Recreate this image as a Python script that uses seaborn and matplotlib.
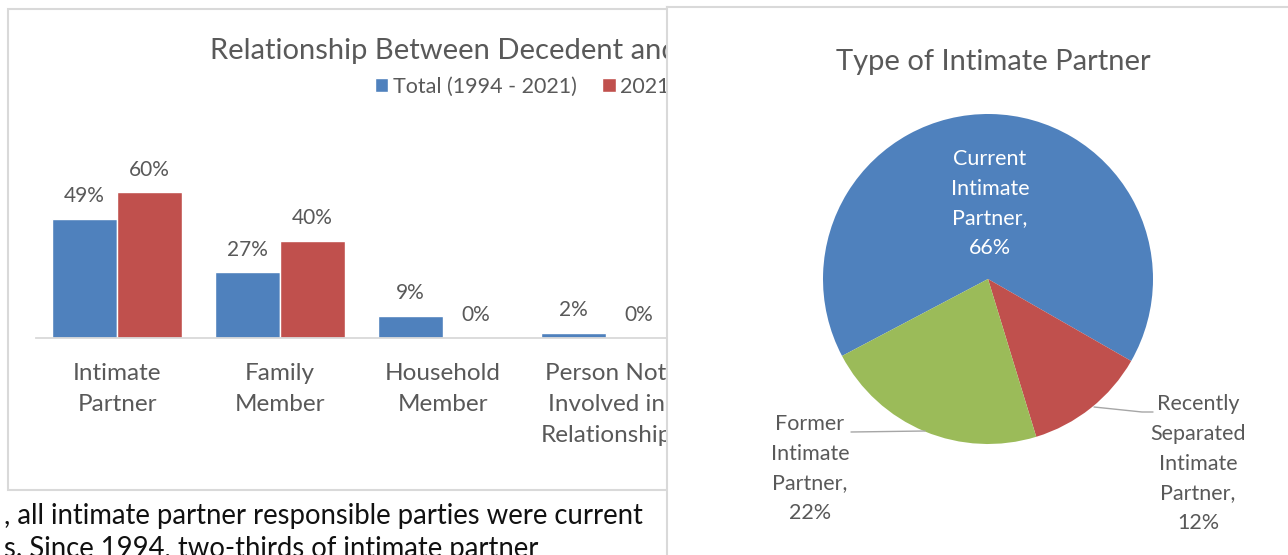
import matplotlib
matplotlib.use("Agg")
import matplotlib.pyplot as plt
import seaborn as sns
import pandas as pd
from matplotlib.patches import Rectangle

# ---------------- data ----------------
categories = ["Intimate\nPartner", "Family\nMember", "Household\nMember",
              "Person Not\nInvolved in\nRelationship"]
series_names = ["Total (1994 - 2021)", "2021"]
total_values = [49, 27, 9, 2]
y2021_values = [60, 40, 0, 0]

pie_names = ["Current Intimate Partner", "Recently Separated Intimate Partner",
             "Former Intimate Partner"]
pie_labels = ["Current\nIntimate\nPartner,\n66%",
              "Recently\nSeparated\nIntimate\nPartner,\n12%",
              "Former\nIntimate\nPartner,\n22%"]
pie_values = [66, 12, 22]

bar_title = "Relationship Between Decedent and"
pie_title = "Type of Intimate Partner"
body_lines = [", all intimate partner responsible parties were current",
              "s. Since 1994, two-thirds of intimate partner"]

# ---------------- style ----------------
W, H = 1288, 555
sns.set_theme(style="white")
plt.rcParams['font.family'] = ['Lato', 'DejaVu Sans']

GRAY = "#595959"
BORDER = "#D9D9D9"
BLUE, RED, GREEN = "#4F81BD", "#C0504D", "#9BBB59"

fig = plt.figure(figsize=(W / 100, H / 100), dpi=100)
fig.patch.set_facecolor("white")


def fx(px):
    return px / W


def fy(py):
    return 1 - py / H


# frame of the left chart
fig.add_artist(Rectangle((fx(8), fy(490)), fx(800) - fx(8), (490 - 9) / H,
                         transform=fig.transFigure, fill=False,
                         edgecolor=BORDER, lw=1.5, zorder=1))

# ---------------- bar chart ----------------
x0, step, ncat = 35.5, 163, len(categories)
base_y, ppu, ymax = 337.5, 2.42, 70
ax = fig.add_axes([fx(x0), fy(base_y), ncat * step / W, ymax * ppu / H])
df = pd.DataFrame({
    "category": categories * 2,
    "series": [series_names[0]] * ncat + [series_names[1]] * ncat,
    "value": total_values + y2021_values,
})
sns.barplot(data=df, x="category", y="value", hue="series",
            palette=[BLUE, RED], saturation=1, width=0.8, errorbar=None,
            ax=ax, legend=True)
ax.set_xlim(-0.5, ncat - 0.5)
ax.set_ylim(0, ymax)
ax.set_facecolor("none")
for s in ["top", "right", "left"]:
    ax.spines[s].set_visible(False)
ax.spines["bottom"].set_color(BORDER)
ax.spines["bottom"].set_linewidth(1.3)
ax.set_yticks([])
ax.set_xlabel("")
ax.set_ylabel("")
ax.set_xticks(range(ncat), labels=categories, linespacing=1.6,
              fontsize=17.5, color=GRAY)
ax.tick_params(axis="x", length=0, pad=18)

for cont in ax.containers:
    ax.bar_label(cont, labels=[f"{v:.0f}%" for v in cont.datavalues],
                 padding=9, fontsize=15, color=GRAY)

old = ax.get_legend()
handles = old.legend_handles
labels = [t.get_text() for t in old.get_texts()]
old.remove()
ax.legend(handles, labels, loc="center left",
          bbox_to_anchor=(fx(375), fy(87)), bbox_transform=fig.transFigure,
          ncol=2, frameon=False, fontsize=15.5, handlelength=0.62,
          handleheight=0.62, handletextpad=0.2, columnspacing=1.2,
          borderpad=0, borderaxespad=0, labelcolor=GRAY)

ax.text(fx(210), fy(51), bar_title, transform=fig.transFigure,
        ha="left", va="center", fontsize=21, color=GRAY)

# body text under the left chart
fig.text(fx(4), fy(516), body_lines[0], ha="left", va="center",
         fontsize=19.8, color="#111111")
fig.text(fx(4), fy(549), body_lines[1], ha="left", va="center",
         fontsize=19.8, color="#111111")

# ---------------- pie panel ----------------
panel = fig.add_axes([fx(667), fy(700), (1500 - 667) / W, (700 - 7) / H],
                     zorder=10)
panel.set_facecolor("white")
panel.set_xticks([])
panel.set_yticks([])
for s in panel.spines.values():
    s.set_color(BORDER)
    s.set_linewidth(1.5)

R = 165
cx, cy = 988, 279
side = 2.5 * R
pax = fig.add_axes([fx(cx - side / 2), fy(cy + side / 2), side / W, side / H],
                   zorder=11)
pax.pie(pie_values, colors=[BLUE, RED, GREEN], startangle=207.8,
        counterclock=False, radius=1, wedgeprops=dict(linewidth=0))
pax.set_xlim(-1.25, 1.25)
pax.set_ylim(-1.25, 1.25)
pax.set_aspect("equal")
pax.axis("off")


def d(px, py):
    return (px - cx) / R, (cy - py) / R


tx, ty = d(990, 203.5)
pax.text(tx, ty, pie_labels[0], ha="center", va="center", color="white",
         fontsize=15.5, linespacing=1.6, clip_on=False)
tx, ty = d(1198, 463.5)
pax.text(tx, ty, pie_labels[1], ha="center", va="center", color=GRAY,
         fontsize=15.5, linespacing=1.6, clip_on=False)
tx, ty = d(810, 468.5)
pax.text(tx, ty, pie_labels[2], ha="center", va="center", color=GRAY,
         fontsize=15.5, linespacing=1.6, clip_on=False)

p1, p2 = d(851, 432), d(925, 431)
pax.plot([p1[0], p2[0]], [p1[1], p2[1]], color="#A6A6A6", lw=1, clip_on=False)
q1, q2, q3 = d(1094, 407), d(1142, 412), d(1153, 412)
pax.plot([q1[0], q2[0], q3[0]], [q1[1], q2[1], q3[1]], color="#A6A6A6",
         lw=1, clip_on=False)

pax.text(fx(993), fy(62), pie_title, transform=fig.transFigure,
         ha="center", va="center", fontsize=21, color=GRAY)

fig.savefig("out.png", dpi=100, facecolor="white")
